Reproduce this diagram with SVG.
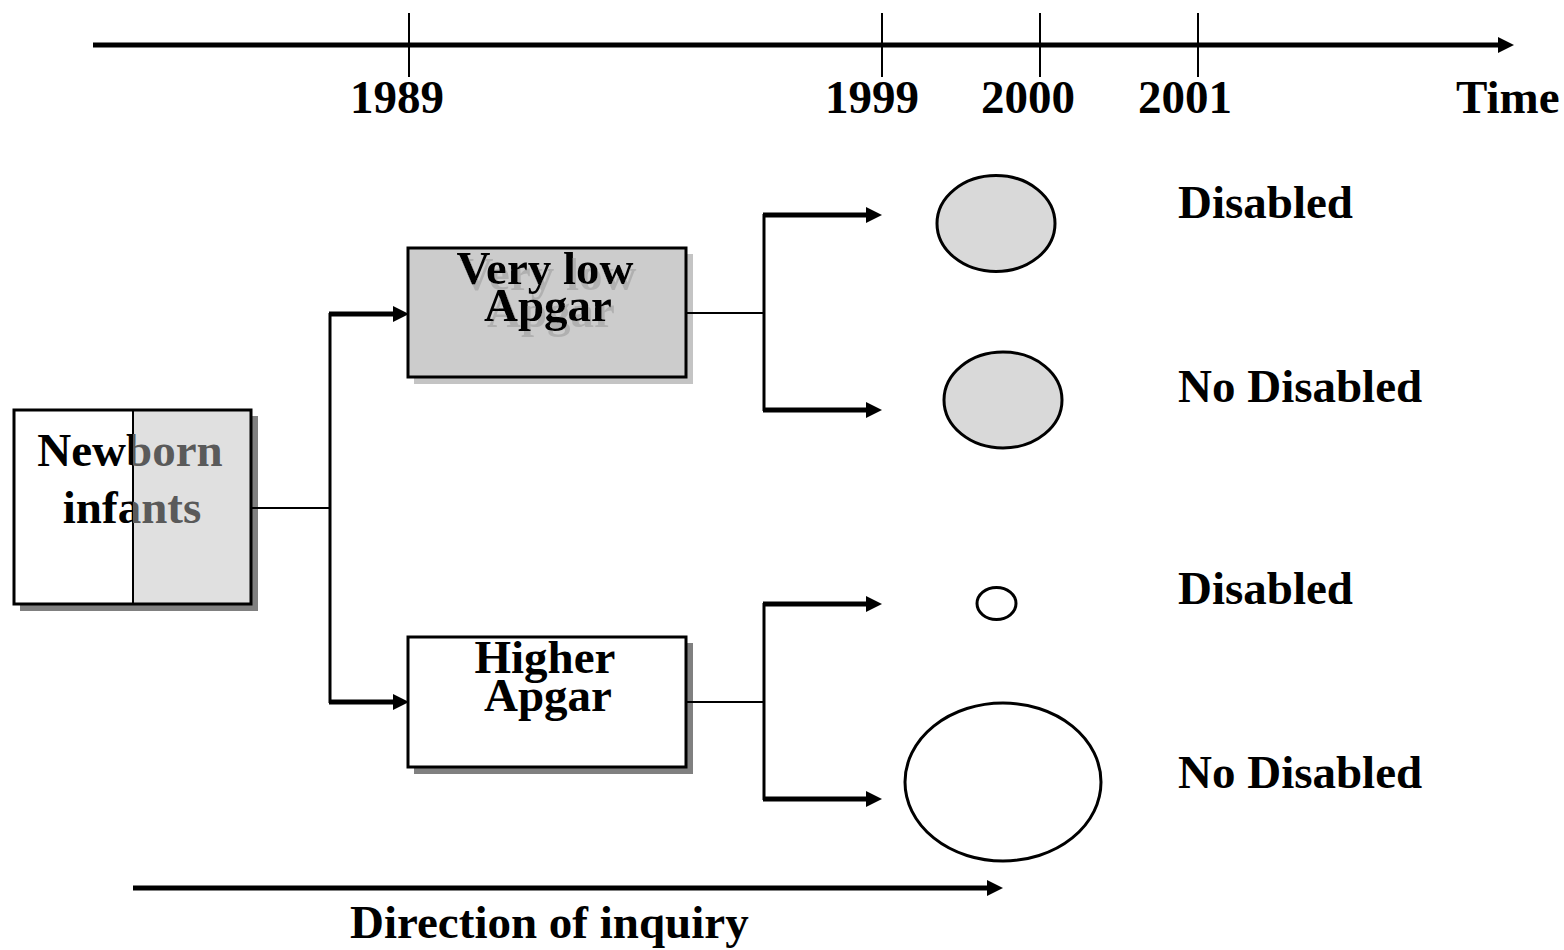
<svg xmlns="http://www.w3.org/2000/svg" width="1564" height="950" viewBox="0 0 1564 950">
  <style>
    .lbl { font-family: "Liberation Serif", "Times New Roman", serif; font-weight: bold; font-size: 47px; fill: #000; }
    .mid { text-anchor: middle; }
    .box { stroke: #000; stroke-width: 3; }
    .thin { fill: none; stroke: #000; stroke-width: 2; }
    .trunk { fill: none; stroke: #000; stroke-width: 3; }
    .arrow { fill: none; stroke: #000; stroke-width: 5; marker-end: url(#head); }
    .tick { stroke: #000; stroke-width: 2; }
    .oval { stroke: #000; stroke-width: 3; }
  </style>
  <defs>
    <marker id="head" viewBox="0 -8 16 16" refX="0" refY="0" markerWidth="16" markerHeight="16" markerUnits="userSpaceOnUse" orient="auto">
      <path d="M0,-8 L16,0 L0,8 z" fill="#000"/>
    </marker>
    <clipPath id="leftHalf"><rect x="0" y="400" width="133" height="220"/></clipPath>
    <clipPath id="rightHalf"><rect x="133" y="400" width="140" height="220"/></clipPath>
    <!-- soft grey drop shadow behind the label lettering -->
    <filter id="textShadow" x="-10%" y="-10%" width="130%" height="140%">
      <feOffset in="SourceAlpha" dx="3" dy="6" result="off"/>
      <feFlood flood-color="#b0b0b0"/>
      <feComposite in2="off" operator="in" result="shade"/>
      <feMerge>
        <feMergeNode in="shade"/>
        <feMergeNode in="SourceGraphic"/>
      </feMerge>
    </filter>
  </defs>

  <rect width="1564" height="950" fill="#fff"/>

  <!-- time axis -->
  <g id="timeline">
    <line class="arrow" x1="93" y1="45" x2="1498" y2="45"/>
    <line class="tick" x1="409" y1="13" x2="409" y2="77"/>
    <line class="tick" x1="882" y1="13" x2="882" y2="77"/>
    <line class="tick" x1="1040" y1="13" x2="1040" y2="77"/>
    <line class="tick" x1="1198" y1="13" x2="1198" y2="77"/>
    <text class="lbl mid" x="397" y="113">1989</text>
    <text class="lbl mid" x="872" y="113">1999</text>
    <text class="lbl mid" x="1028" y="113">2000</text>
    <text class="lbl mid" x="1185" y="113">2001</text>
    <text class="lbl" x="1456" y="113">Time</text>
  </g>

  <!-- cohort box -->
  <g id="newborn">
    <rect x="20" y="416" width="238" height="195" fill="#808080"/>
    <rect x="14" y="410" width="119" height="194" fill="#fff"/>
    <rect x="133" y="410" width="118" height="194" fill="#e0e0e0"/>
    <rect class="box" x="14" y="410" width="237" height="194" fill="none"/>
    <line class="tick" x1="133" y1="410" x2="133" y2="604"/>
    <g clip-path="url(#leftHalf)">
      <text class="lbl mid" x="130" y="466">Newborn</text>
      <text class="lbl mid" x="132" y="523">infants</text>
    </g>
    <g clip-path="url(#rightHalf)">
      <text class="lbl mid" x="130" y="466" style="fill:#5a5a5a">Newborn</text>
      <text class="lbl mid" x="132" y="523" style="fill:#5a5a5a">infants</text>
    </g>
  </g>

  <g id="very-low-apgar">
    <rect x="414" y="254" width="279" height="130" fill="#c4c4c4"/>
    <rect class="box" x="408" y="248" width="278" height="129" fill="#cccccc"/>
    <text class="lbl mid" filter="url(#textShadow)"><tspan x="545" y="284">Very low</tspan><tspan x="548" y="321">Apgar</tspan></text>
  </g>

  <g id="higher-apgar">
    <rect x="414" y="643" width="279" height="131" fill="#808080"/>
    <rect class="box" x="408" y="637" width="278" height="130" fill="#fff"/>
    <text class="lbl mid"><tspan x="545" y="673">Higher</tspan><tspan x="548" y="711">Apgar</tspan></text>
  </g>

  <!-- outcome groups -->
  <g id="outcome-1">
    <ellipse class="oval" cx="996" cy="223.5" rx="59" ry="48" fill="#d9d9d9"/>
    <text class="lbl" x="1178" y="218">Disabled</text>
  </g>
  <g id="outcome-2">
    <ellipse class="oval" cx="1003" cy="400" rx="59" ry="48" fill="#d9d9d9"/>
    <text class="lbl" x="1178" y="402">No Disabled</text>
  </g>
  <g id="outcome-3">
    <ellipse class="oval" cx="996.5" cy="603.5" rx="19.5" ry="16" fill="#fff"/>
    <text class="lbl" x="1178" y="604">Disabled</text>
  </g>
  <g id="outcome-4">
    <ellipse class="oval" cx="1003" cy="782" rx="98" ry="79" fill="#fff"/>
    <text class="lbl" x="1178" y="788">No Disabled</text>
  </g>

  <!-- connectors -->
  <g id="connectors">
    <line class="thin" x1="251" y1="508" x2="330" y2="508"/>
    <line class="trunk" x1="330" y1="313" x2="330" y2="703"/>
    <line class="arrow" x1="329" y1="314" x2="393" y2="314"/>
    <line class="arrow" x1="329" y1="702" x2="393" y2="702"/>

    <line class="thin" x1="686" y1="313" x2="764" y2="313"/>
    <line class="trunk" x1="764" y1="214" x2="764" y2="411"/>
    <line class="arrow" x1="763" y1="215" x2="866" y2="215"/>
    <line class="arrow" x1="763" y1="410" x2="866" y2="410"/>

    <line class="thin" x1="686" y1="702" x2="764" y2="702"/>
    <line class="trunk" x1="764" y1="603" x2="764" y2="800"/>
    <line class="arrow" x1="763" y1="604" x2="866" y2="604"/>
    <line class="arrow" x1="763" y1="799" x2="866" y2="799"/>
  </g>

  <!-- inquiry direction -->
  <g id="direction">
    <line class="arrow" x1="133" y1="888" x2="987" y2="888"/>
    <text class="lbl" x="350" y="938">Direction of inquiry</text>
  </g>
</svg>
